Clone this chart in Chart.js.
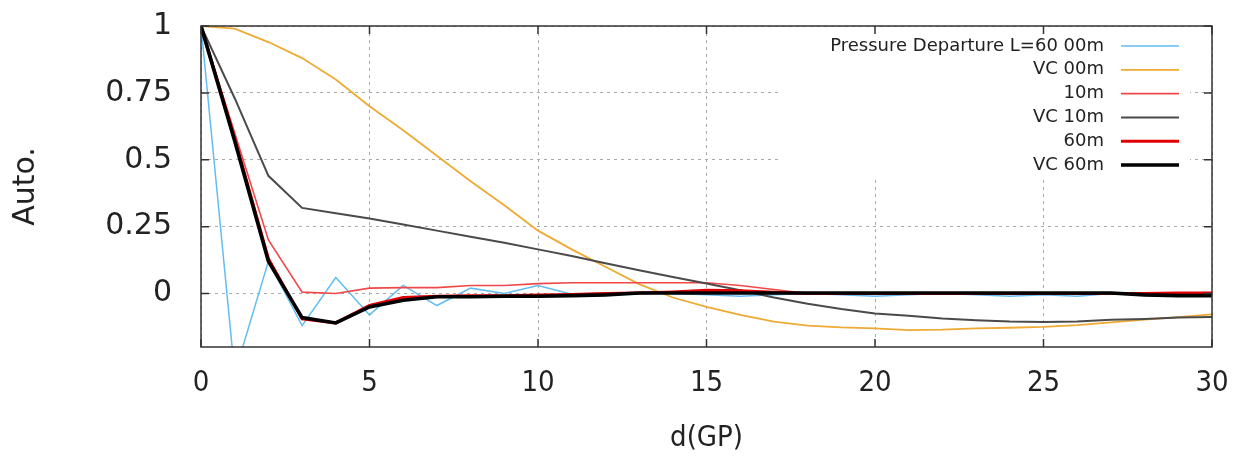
<!DOCTYPE html>
<html>
<head>
<meta charset="utf-8">
<script src="https://cdn.jsdelivr.net/npm/chart.js@4.4.1/dist/chart.umd.min.js"></script>
<style>
	body { margin: 0; background: #fff; }
	#wrap { width: 1234px; height: 456px; }
</style>
</head>
<body>
<div id="wrap"><canvas id="chart" width="1234" height="456"></canvas></div>
<script>
// Autocorrelation vs distance (grid points)

const dist = [0, 1, 2, 3, 4, 5, 6, 7, 8, 9, 10, 11, 12, 13, 14, 15, 16, 17, 18, 19, 20, 21, 22, 23, 24, 25, 26, 27, 28, 29, 30];
const xTicks = [0, 5, 10, 15, 20, 25, 30];
const yTicks = [0, 0.25, 0.5, 0.75, 1];

const seriesNames = ["Pressure Departure L=60 00m", "VC 00m", "10m", "VC 10m", "60m", "VC 60m"];

const pressure = [1, -0.3, 0.12, -0.12, 0.06, -0.08, 0.03, -0.045, 0.02, 0, 0.03, -0.003, 0.002, 0, 0, -0.005, -0.01, -0.005, 0, -0.005, -0.01, -0.005, 0, -0.005, -0.01, -0.005, -0.01, 0, 0, 0, 0];
const vc00 = [1, 0.99, 0.94, 0.88, 0.8, 0.7, 0.61, 0.515, 0.42, 0.33, 0.235, 0.165, 0.1, 0.035, -0.015, -0.05, -0.08, -0.105, -0.12, -0.127, -0.13, -0.137, -0.135, -0.13, -0.128, -0.125, -0.118, -0.108, -0.098, -0.088, -0.078];
const m10 = [1, 0.6, 0.2, 0.005, 0, 0.02, 0.022, 0.022, 0.03, 0.03, 0.037, 0.04, 0.04, 0.04, 0.04, 0.04, 0.03, 0.015, 0, 0, 0, 0, 0, 0, 0, 0, 0, 0, 0, 0, 0];
const vc10 = [1, 0.73, 0.44, 0.32, 0.3, 0.28, 0.258, 0.235, 0.212, 0.19, 0.165, 0.14, 0.113, 0.087, 0.062, 0.037, 0.012, -0.015, -0.038, -0.058, -0.075, -0.083, -0.093, -0.1, -0.105, -0.107, -0.105, -0.098, -0.095, -0.09, -0.088];
const m60 = [1, 0.58, 0.13, -0.095, -0.11, -0.045, -0.015, -0.01, -0.008, -0.008, -0.006, -0.004, 0, 0.002, 0.006, 0.012, 0.01, 0.005, 0, 0, 0, 0, 0, 0, 0, 0, 0, 0, 0, 0.002, 0.002];
const vc60 = [1, 0.57, 0.12, -0.09, -0.11, -0.05, -0.025, -0.012, -0.012, -0.01, -0.01, -0.008, -0.005, 0.002, 0.002, 0.002, 0.002, 0.002, 0.002, 0.002, 0.002, 0.002, 0.002, 0.002, 0.002, 0.002, 0.002, 0.002, -0.005, -0.008, -0.008];

const colors = ["#62bdf0", "#eeaa33", "#f04848", "#4a4a4a", "#e00000", "#000000"];
const widths = [1.5, 1.8, 1.6, 2, 3, 3.6];

const allSeries = [pressure, vc00, m10, vc10, m60, vc60];

const toPoints = (vals) => dist.map((d, i) => ({ x: d, y: vals[i] }));

// gnuplot style key, right aligned text with sample line
const keyPlugin = {
	id: "key",
	beforeDatasetsDraw(chart) {
		const ctx = chart.ctx;
		const area = chart.chartArea;
		ctx.save();
		ctx.fillStyle = "#fff";
		ctx.fillRect(780, area.top + 1, 410, 150);
		ctx.restore();
	},
	afterDatasetsDraw(chart) {
		const ctx = chart.ctx;
		const area = chart.chartArea;
		ctx.save();
		ctx.font = "18px 'DejaVu Sans'";
		ctx.textAlign = "right";
		ctx.textBaseline = "middle";
		chart.data.datasets.forEach((ds, i) => {
			const y = area.top + 20 + i * 23.8;
			ctx.fillStyle = "#222";
			ctx.fillText(ds.label, 1104, y);
			ctx.strokeStyle = ds.borderColor;
			ctx.lineWidth = ds.borderWidth;
			ctx.beginPath();
			ctx.moveTo(1121, y);
			ctx.lineTo(1179, y);
			ctx.stroke();
		});

		// frame with inward ticks
		const xs = chart.scales.x;
		const ys = chart.scales.y;
		ctx.strokeStyle = "#333";
		ctx.lineWidth = 1.5;
		ctx.strokeRect(area.left, area.top, area.right - area.left, area.bottom - area.top);
		ctx.beginPath();
		xTicks.forEach((v) => {
			const px = xs.getPixelForValue(v);
			ctx.moveTo(px, area.bottom);
			ctx.lineTo(px, area.bottom - 8);
			ctx.moveTo(px, area.top);
			ctx.lineTo(px, area.top + 8);
		});
		yTicks.forEach((v) => {
			const py = ys.getPixelForValue(v);
			ctx.moveTo(area.left, py);
			ctx.lineTo(area.left + 8, py);
			ctx.moveTo(area.right, py);
			ctx.lineTo(area.right - 8, py);
		});
		ctx.stroke();
		ctx.restore();
	},
};

const chart = new Chart(document.getElementById("chart"), {
	type: "line",
	data: {
		datasets: allSeries.map((vals, i) => ({
			label: seriesNames[i],
			data: toPoints(vals),
			borderColor: colors[i],
			backgroundColor: colors[i],
			borderWidth: widths[i],
			pointRadius: 0,
			tension: 0,
			fill: false,
			order: allSeries.length - i,
		})),
	},
	options: {
		responsive: false,
		animation: false,
		devicePixelRatio: 1,
		layout: {
			padding: { left: 0, right: 22, top: 26, bottom: 0 },
		},
		plugins: {
			legend: { display: false },
			tooltip: { enabled: false },
		},
		scales: {
			x: {
				type: "linear",
				min: 0,
				max: 30,
				afterBuildTicks: (scale) => {
					scale.ticks = xTicks.map((v) => ({ value: v }));
				},
				afterFit: (scale) => {
					scale.height = 109;
					scale.paddingLeft = 0;
					scale.paddingRight = 0;
				},
				grid: { color: "#aaa", lineWidth: 1, drawTicks: false },
				border: { display: false, dash: [3, 4] },
				ticks: {
					padding: 19,
					color: "#222",
					maxRotation: 0,
					callback: (v) => String(v),
					font: { family: "'DejaVu Sans Condensed', 'DejaVu Sans'", size: 29 },
				},
				title: {
					display: true,
					text: "d(GP)",
					color: "#222",
					padding: { top: 0, bottom: 0 },
					font: { family: "'DejaVu Sans Condensed', 'DejaVu Sans'", size: 29 },
				},
			},
			y: {
				min: -0.2,
				max: 1,
				afterBuildTicks: (scale) => {
					scale.ticks = yTicks.map((v) => ({ value: v }));
				},
				afterFit: (scale) => {
					scale.width = 201;
					scale.paddingTop = 0;
					scale.paddingBottom = 0;
				},
				grid: { color: "#aaa", lineWidth: 1, drawTicks: false },
				border: { display: false, dash: [3, 4] },
				ticks: {
					padding: 29,
					color: "#222",
					callback: (v) => String(v),
					font: { family: "'DejaVu Sans'", size: 30 },
				},
				title: {
					display: true,
					text: "Auto.",
					color: "#222",
					padding: { top: 8, bottom: 0 },
					font: { family: "'DejaVu Sans'", size: 30 },
				},
			},
		},
	},
	plugins: [keyPlugin],
});
</script>
</body>
</html>
